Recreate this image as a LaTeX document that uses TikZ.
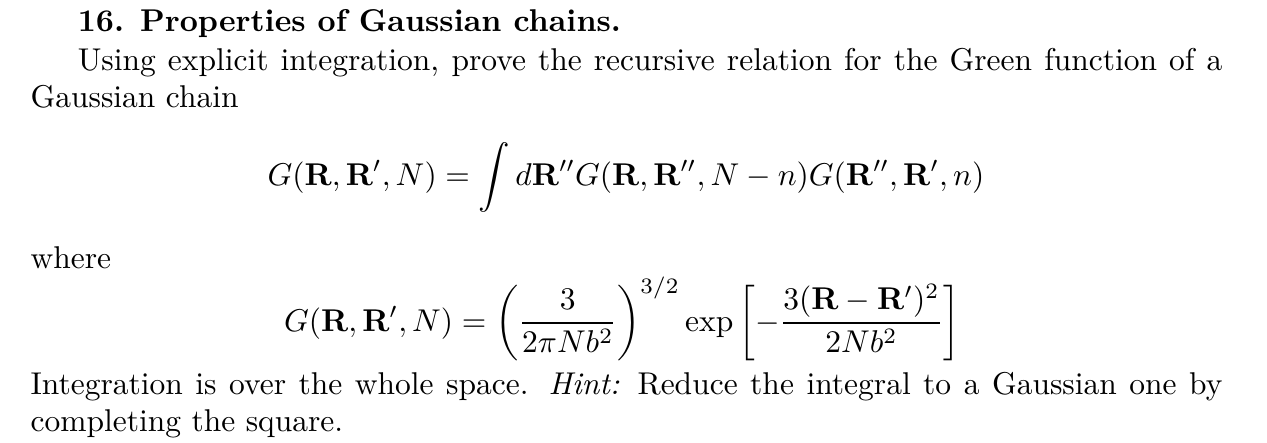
\documentclass[tikz,border=0pt]{standalone}
\usepackage{amsmath}
\begin{document}
\begin{tikzpicture}[x=0.3175pt,y=-0.3175pt]
  \tikzset{para/.style={anchor=north west,inner sep=0pt,text width=378.4pt,align=justify},
           eqn/.style={anchor=base,inner sep=0pt}}
  \useasboundingbox (0,0) rectangle (1267,443);
  % heading and statement
  \node[para] (title) at (30,4) {\strut\hspace*{15pt}\textbf{16. Properties of Gaussian chains.}};
  \node[para] (stmt) at (30,43) {\strut\hspace*{15pt}Using explicit integration, prove the recursive relation for the Green function of a\linebreak Gaussian chain};
  % recursion
  \node[eqn] (rec) at (626,185) {$\displaystyle G(\mathbf{R},\mathbf{R}',N)=\int d\mathbf{R}''G(\mathbf{R},\mathbf{R}'',N-n)G(\mathbf{R}'',\mathbf{R}',n)$};
  \node[para] (where) at (30,241) {\strut where};
  % Green function
  \node[eqn] (green) at (622,331) {$\displaystyle G(\mathbf{R},\mathbf{R}',N)=\left(\frac{3}{2\pi Nb^2}\right)^{3/2}\exp\left[-\frac{3(\mathbf{R}-\mathbf{R}')^2}{2Nb^2}\right]$};
  \node[para] (hint) at (30,367) {\strut Integration is over the whole space. \emph{Hint:} Reduce the integral to a Gaussian one by\linebreak completing the square.};
\end{tikzpicture}
\end{document}
